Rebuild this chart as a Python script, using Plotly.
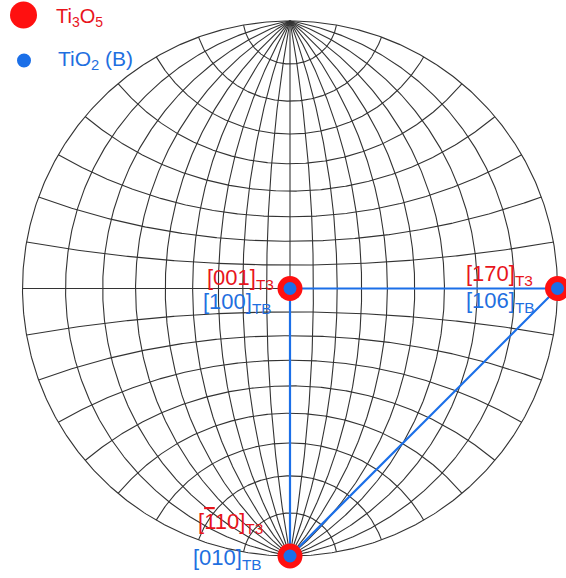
import numpy as np
import plotly.graph_objects as go

# ---- data ----
net_step_deg = 10                      # Wulff net grid spacing
pole_names = ["center", "east", "south"]
pole_lon_deg = [0, 90, 0]              # longitude of each plotted pole
pole_lat_deg = [0, 0, -90]             # latitude of each plotted pole
t3_labels = ["[001]<sub>T3</sub>", "[170]<sub>T3</sub>",
             "[<span style=\"text-decoration:overline\">1</span>10]<sub>T3</sub>"]
tb_labels = ["[100]<sub>TB</sub>", "[106]<sub>TB</sub>", "[010]<sub>TB</sub>"]
trace_links = [(0, 1), (0, 2), (2, 1)]  # blue connecting lines
legend_names = ["Ti<sub>3</sub>O<sub>5</sub>", "TiO<sub>2</sub> (B)"]

RED = "#ff1010"
RED_TXT = "#e8141c"
BLUE = "#1b6fe8"
BLUE_TXT = "#1f6fe0"
GRID = "#333333"
FONT = "Liberation Sans, Arial, sans-serif"

def stereo(lon, lat):
    lon = np.radians(lon); lat = np.radians(lat)
    x = np.cos(lat) * np.sin(lon)
    y = np.sin(lat)
    z = np.cos(lat) * np.cos(lon)
    return x / (1 + z), y / (1 + z)

fig = go.Figure()

# meridians
t = np.linspace(-90, 90, 361)
for lon in range(-90, 91, net_step_deg):
    X, Y = stereo(np.full_like(t, lon), t)
    fig.add_trace(go.Scatter(x=X, y=Y, mode="lines",
                             line=dict(color=GRID, width=1.1),
                             hoverinfo="skip", showlegend=False))
# parallels
for lat in range(-90 + net_step_deg, 90, net_step_deg):
    X, Y = stereo(t, np.full_like(t, lat))
    fig.add_trace(go.Scatter(x=X, y=Y, mode="lines",
                             line=dict(color=GRID, width=1.1),
                             hoverinfo="skip", showlegend=False))

px_, py_ = stereo(np.array(pole_lon_deg, float), np.array(pole_lat_deg, float))

for a, b in trace_links:
    fig.add_trace(go.Scatter(x=[px_[a], px_[b]], y=[py_[a], py_[b]], mode="lines",
                             line=dict(color=BLUE, width=2.2),
                             hoverinfo="skip", showlegend=False))

fig.add_trace(go.Scatter(x=px_, y=py_, mode="markers",
                         marker=dict(size=25, color=RED, line=dict(width=0)),
                         showlegend=False, cliponaxis=False, hoverinfo="skip"))
fig.add_trace(go.Scatter(x=px_, y=py_, mode="markers",
                         marker=dict(size=13, color=BLUE, line=dict(width=0)),
                         showlegend=False, cliponaxis=False, hoverinfo="skip"))

# labels (offsets in pixels)
t3_off = [(-14, 10), (-23, 14), (-25, 33)]
tb_off = [(-16, -14), (-21, -13), (-26, -3)]
for i in range(3):
    fig.add_annotation(x=px_[i], y=py_[i], text=t3_labels[i], showarrow=False,
                       xanchor="right", yanchor="middle",
                       xshift=t3_off[i][0], yshift=t3_off[i][1],
                       font=dict(family=FONT, size=22, color=RED_TXT))
    fig.add_annotation(x=px_[i], y=py_[i], text=tb_labels[i], showarrow=False,
                       xanchor="right", yanchor="middle",
                       xshift=tb_off[i][0], yshift=tb_off[i][1],
                       font=dict(family=FONT, size=22, color=BLUE_TXT))

# legend (manual), positions in pixels
W, H = 566, 578
def circ(cx, cy, d, color):
    fig.add_shape(type="circle", xref="paper", yref="paper",
                  xsizemode="pixel", ysizemode="pixel",
                  xanchor=cx / W, yanchor=1 - cy / H,
                  x0=-d / 2, x1=d / 2, y0=-d / 2, y1=d / 2,
                  fillcolor=color, line=dict(width=0))
circ(23.5, 15, 27, RED)
circ(24, 60.5, 14, BLUE)
fig.add_annotation(xref="paper", yref="paper", x=54 / W, y=1 - 17 / H,
                   text=legend_names[0], showarrow=False, xanchor="left", yanchor="middle",
                   font=dict(family=FONT, size=20, color=RED_TXT))
fig.add_annotation(xref="paper", yref="paper", x=56 / W, y=1 - 60 / H,
                   text=legend_names[1], showarrow=False, xanchor="left", yanchor="middle",
                   font=dict(family=FONT, size=21, color=BLUE_TXT))

cx, cy, R = 290.0, 288.5, 267.5
fig.update_layout(
    width=W, height=H, margin=dict(l=0, r=0, t=0, b=0),
    paper_bgcolor="white", plot_bgcolor="white",
    xaxis=dict(range=[(0 - cx) / R, (W - cx) / R], visible=False, fixedrange=True),
    yaxis=dict(range=[(cy - H) / R, cy / R], visible=False, fixedrange=True),
    showlegend=False, hovermode=False,
)
fig.write_html("out.html", config={"displayModeBar": False},
               post_script="document.body.style.margin='0px';")
